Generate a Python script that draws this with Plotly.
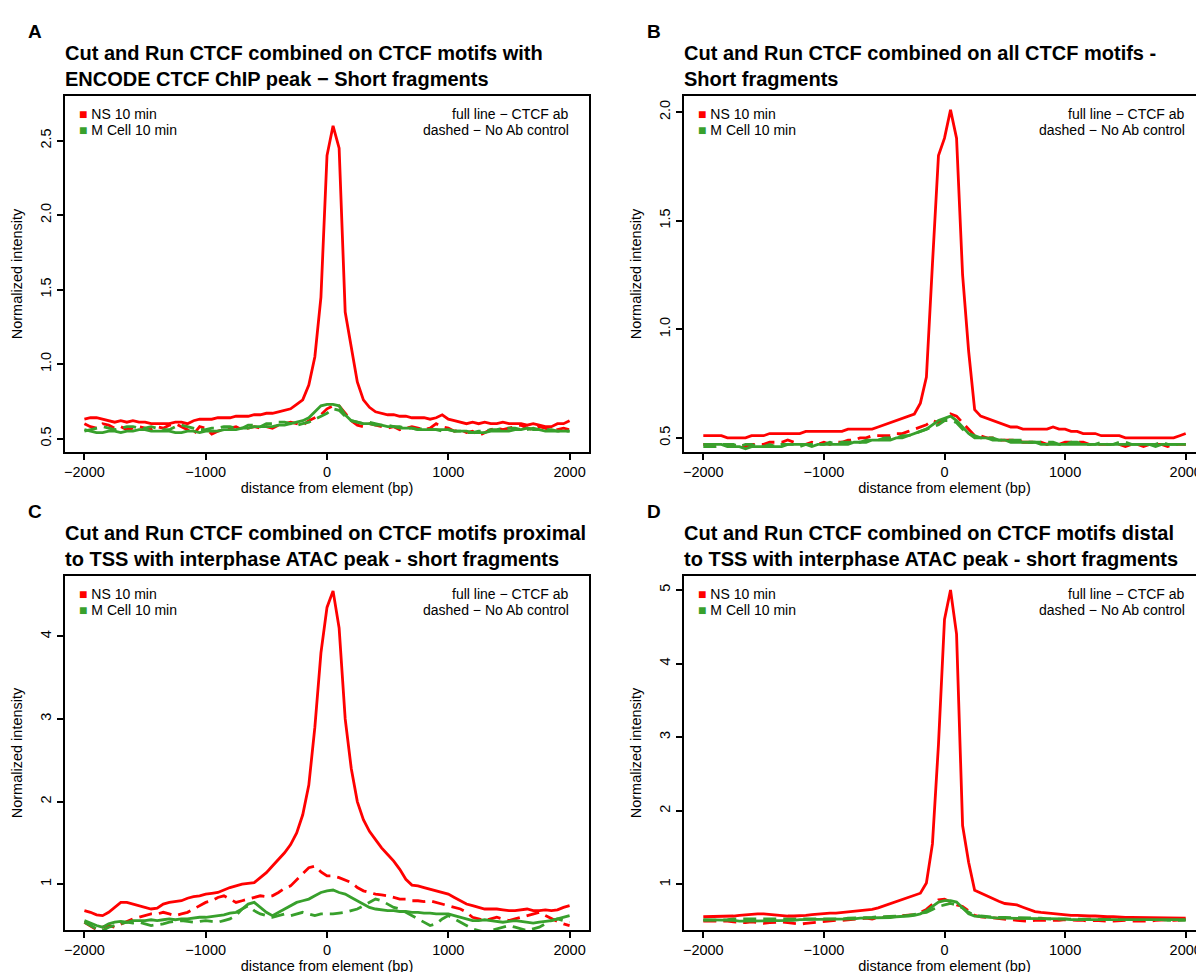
import plotly.graph_objects as go

# ---------------- data ----------------
distance_bp = [-2000 + 50 * i for i in range(81)]

x_tick_vals = [-2000, -1000, 0, 1000, 2000]
x_tick_text = ["\u22122000", "\u22121000", "0", "1000", "2000"]

# Panel A
a_ns_ctcf = [0.63,0.64,0.64,0.63,0.62,0.61,0.62,0.61,0.62,0.61,
             0.61,0.60,0.60,0.60,0.60,0.61,0.61,0.60,0.62,0.63,
             0.63,0.63,0.64,0.64,0.64,0.65,0.65,0.65,0.66,0.66,
             0.67,0.67,0.68,0.69,0.70,0.73,0.76,0.86,1.05,1.45,
             2.40,2.60,2.45,1.35,1.12,0.88,0.76,0.71,0.68,0.67,
             0.66,0.66,0.65,0.65,0.64,0.64,0.64,0.63,0.64,0.66,
             0.63,0.62,0.61,0.60,0.61,0.60,0.61,0.60,0.60,0.61,
             0.60,0.60,0.60,0.59,0.60,0.59,0.58,0.58,0.60,0.60,
             0.62]
a_ns_noab = [0.60,0.58,0.57,0.60,0.59,0.57,0.58,0.56,0.57,0.58,
             0.57,0.56,0.58,0.57,0.59,0.60,0.58,0.56,0.53,0.58,
             0.57,0.53,0.55,0.56,0.57,0.58,0.56,0.57,0.58,0.57,
             0.58,0.57,0.59,0.60,0.61,0.60,0.59,0.62,0.64,0.66,
             0.70,0.72,0.72,0.67,0.62,0.59,0.58,0.60,0.59,0.58,
             0.57,0.58,0.56,0.57,0.58,0.57,0.56,0.57,0.60,0.58,
             0.57,0.55,0.56,0.54,0.55,0.52,0.54,0.56,0.57,0.56,
             0.57,0.58,0.59,0.57,0.56,0.58,0.57,0.55,0.56,0.57,
             0.56]
a_m_ctcf = [0.56,0.55,0.54,0.54,0.55,0.55,0.54,0.55,0.55,0.56,
            0.56,0.55,0.55,0.55,0.55,0.54,0.54,0.55,0.55,0.54,
            0.55,0.55,0.55,0.56,0.56,0.56,0.57,0.57,0.58,0.58,
            0.58,0.58,0.59,0.59,0.60,0.61,0.62,0.64,0.68,0.72,
            0.73,0.73,0.72,0.66,0.62,0.61,0.60,0.60,0.59,0.59,
            0.58,0.58,0.57,0.57,0.57,0.56,0.56,0.56,0.56,0.56,
            0.56,0.55,0.55,0.55,0.54,0.54,0.54,0.55,0.55,0.55,
            0.55,0.56,0.56,0.57,0.56,0.56,0.55,0.55,0.55,0.55,
            0.55]
a_m_noab = [0.55,0.56,0.57,0.58,0.57,0.56,0.57,0.58,0.58,0.57,
            0.57,0.58,0.57,0.56,0.56,0.58,0.59,0.58,0.57,0.56,
            0.56,0.57,0.57,0.58,0.58,0.57,0.57,0.59,0.59,0.58,
            0.60,0.60,0.61,0.61,0.60,0.59,0.60,0.61,0.63,0.65,
            0.67,0.70,0.69,0.65,0.62,0.61,0.60,0.61,0.60,0.59,
            0.59,0.58,0.58,0.57,0.57,0.56,0.57,0.56,0.56,0.55,
            0.56,0.55,0.55,0.54,0.54,0.55,0.55,0.56,0.56,0.57,
            0.57,0.57,0.56,0.56,0.57,0.56,0.56,0.56,0.55,0.55,
            0.55]

# Panel B
b_ns_ctcf = [0.51,0.51,0.51,0.51,0.50,0.50,0.50,0.50,0.51,0.51,
             0.51,0.52,0.52,0.52,0.52,0.52,0.52,0.53,0.53,0.53,
             0.53,0.53,0.53,0.53,0.54,0.54,0.54,0.54,0.54,0.55,
             0.56,0.57,0.58,0.59,0.60,0.61,0.66,0.78,1.30,1.80,
             1.88,2.01,1.88,1.25,0.90,0.63,0.60,0.59,0.58,0.57,
             0.56,0.55,0.55,0.54,0.54,0.54,0.54,0.54,0.55,0.54,
             0.54,0.53,0.53,0.52,0.52,0.52,0.51,0.51,0.51,0.51,
             0.50,0.50,0.50,0.50,0.50,0.50,0.50,0.50,0.50,0.51,
             0.52]
b_ns_noab = [0.47,0.47,0.47,0.47,0.47,0.46,0.47,0.46,0.47,0.47,
             0.47,0.48,0.48,0.48,0.49,0.48,0.47,0.47,0.48,0.47,
             0.48,0.47,0.48,0.48,0.49,0.49,0.50,0.50,0.51,0.51,
             0.51,0.51,0.52,0.52,0.53,0.54,0.55,0.56,0.58,0.57,
             0.58,0.61,0.60,0.57,0.54,0.51,0.51,0.50,0.50,0.49,
             0.49,0.49,0.49,0.48,0.48,0.48,0.48,0.47,0.48,0.47,
             0.48,0.48,0.48,0.48,0.47,0.47,0.47,0.47,0.47,0.47,
             0.46,0.47,0.47,0.46,0.47,0.47,0.47,0.46,0.47,0.47,
             0.47]
b_m_ctcf = [0.47,0.47,0.47,0.47,0.46,0.46,0.46,0.45,0.46,0.46,
            0.46,0.46,0.46,0.46,0.47,0.47,0.47,0.47,0.46,0.47,
            0.47,0.47,0.47,0.47,0.47,0.48,0.48,0.48,0.49,0.49,
            0.49,0.49,0.50,0.50,0.51,0.52,0.53,0.54,0.56,0.58,
            0.59,0.60,0.58,0.55,0.52,0.50,0.50,0.50,0.49,0.49,
            0.49,0.48,0.48,0.48,0.48,0.48,0.47,0.47,0.47,0.47,
            0.47,0.47,0.47,0.47,0.47,0.47,0.47,0.47,0.47,0.47,
            0.47,0.47,0.47,0.47,0.47,0.46,0.47,0.47,0.47,0.47,
            0.47]
b_m_noab = [0.46,0.46,0.46,0.47,0.47,0.47,0.46,0.47,0.47,0.46,
            0.46,0.47,0.46,0.47,0.47,0.47,0.46,0.47,0.47,0.47,
            0.47,0.48,0.47,0.48,0.48,0.48,0.48,0.49,0.49,0.49,
            0.50,0.50,0.50,0.51,0.51,0.52,0.53,0.54,0.55,0.56,
            0.58,0.58,0.57,0.54,0.52,0.51,0.50,0.50,0.50,0.49,
            0.49,0.49,0.49,0.49,0.48,0.48,0.48,0.48,0.48,0.47,
            0.47,0.48,0.48,0.47,0.47,0.47,0.48,0.47,0.47,0.48,
            0.48,0.47,0.47,0.47,0.47,0.47,0.48,0.47,0.47,0.47,
            0.47]

# Panel C
c_ns_ctcf = [0.68,0.66,0.63,0.62,0.66,0.72,0.78,0.78,0.76,0.74,
             0.72,0.70,0.71,0.76,0.78,0.79,0.80,0.83,0.85,0.86,
             0.88,0.89,0.90,0.93,0.96,0.98,1.00,1.01,1.02,1.08,
             1.14,1.22,1.30,1.38,1.48,1.62,1.84,2.20,2.90,3.80,
             4.35,4.55,4.10,3.00,2.40,2.00,1.78,1.64,1.54,1.44,
             1.36,1.28,1.18,1.06,0.99,0.98,0.96,0.94,0.92,0.90,
             0.88,0.84,0.80,0.76,0.74,0.72,0.70,0.70,0.70,0.69,
             0.68,0.68,0.69,0.70,0.68,0.68,0.69,0.68,0.69,0.72,
             0.74]
c_ns_noab = [0.54,0.50,0.45,0.48,0.50,0.48,0.52,0.55,0.58,0.60,
             0.62,0.64,0.64,0.66,0.64,0.62,0.64,0.66,0.70,0.74,
             0.78,0.80,0.84,0.86,0.82,0.78,0.80,0.82,0.84,0.86,
             0.85,0.86,0.90,0.95,0.98,1.05,1.12,1.20,1.22,1.15,
             1.10,1.10,1.08,1.05,1.02,0.96,0.92,0.90,0.88,0.87,
             0.86,0.84,0.82,0.82,0.80,0.80,0.79,0.80,0.78,0.76,
             0.74,0.72,0.70,0.66,0.60,0.58,0.56,0.58,0.60,0.58,
             0.56,0.58,0.60,0.62,0.64,0.66,0.62,0.58,0.55,0.52,
             0.50]
c_m_ctcf = [0.56,0.53,0.50,0.48,0.52,0.54,0.55,0.54,0.56,0.56,
            0.56,0.57,0.56,0.57,0.58,0.57,0.58,0.58,0.59,0.60,
            0.60,0.61,0.62,0.63,0.65,0.66,0.70,0.76,0.78,0.72,
            0.66,0.62,0.66,0.70,0.74,0.78,0.80,0.82,0.86,0.90,
            0.92,0.93,0.90,0.88,0.84,0.80,0.76,0.72,0.70,0.69,
            0.68,0.68,0.67,0.67,0.66,0.66,0.65,0.65,0.64,0.64,
            0.64,0.62,0.60,0.58,0.56,0.56,0.57,0.56,0.55,0.54,
            0.55,0.56,0.55,0.54,0.53,0.54,0.55,0.56,0.58,0.60,
            0.62]
c_m_noab = [0.54,0.50,0.46,0.44,0.48,0.50,0.52,0.54,0.53,0.54,
            0.52,0.50,0.51,0.52,0.54,0.55,0.56,0.55,0.54,0.55,
            0.56,0.55,0.54,0.56,0.58,0.62,0.70,0.74,0.68,0.64,
            0.62,0.60,0.62,0.64,0.62,0.64,0.66,0.64,0.62,0.64,
            0.64,0.64,0.65,0.66,0.68,0.70,0.74,0.78,0.82,0.80,
            0.76,0.72,0.70,0.66,0.62,0.58,0.54,0.50,0.52,0.58,
            0.62,0.58,0.54,0.50,0.46,0.44,0.42,0.44,0.46,0.48,
            0.50,0.48,0.46,0.44,0.46,0.48,0.52,0.56,0.58,0.56,
            0.54]

# Panel D
d_ns_ctcf = [0.56,0.56,0.56,0.56,0.57,0.57,0.58,0.59,0.60,0.60,
             0.60,0.59,0.58,0.57,0.57,0.57,0.57,0.58,0.59,0.60,
             0.60,0.61,0.61,0.62,0.62,0.63,0.64,0.65,0.66,0.68,
             0.71,0.73,0.76,0.79,0.82,0.85,0.88,1.02,1.55,2.90,
             4.60,5.00,4.40,1.80,1.30,0.92,0.88,0.85,0.81,0.77,
             0.74,0.73,0.72,0.69,0.66,0.63,0.62,0.61,0.60,0.59,
             0.58,0.58,0.58,0.57,0.57,0.57,0.56,0.56,0.56,0.55,
             0.55,0.55,0.55,0.55,0.55,0.54,0.54,0.54,0.54,0.54,
             0.54]
d_ns_noab = [0.50,0.50,0.51,0.50,0.50,0.49,0.48,0.48,0.49,0.48,
             0.47,0.48,0.49,0.49,0.48,0.47,0.46,0.47,0.48,0.49,
             0.50,0.50,0.51,0.51,0.52,0.52,0.53,0.54,0.53,0.55,
             0.55,0.56,0.56,0.57,0.58,0.59,0.62,0.66,0.73,0.79,
             0.80,0.76,0.72,0.70,0.64,0.58,0.56,0.55,0.54,0.54,
             0.53,0.52,0.51,0.50,0.50,0.51,0.51,0.50,0.51,0.51,
             0.52,0.51,0.51,0.51,0.50,0.51,0.50,0.50,0.50,0.51,
             0.51,0.50,0.50,0.49,0.50,0.51,0.52,0.52,0.51,0.51,
             0.52]
d_m_ctcf = [0.52,0.52,0.51,0.51,0.51,0.51,0.50,0.50,0.50,0.50,
            0.50,0.50,0.51,0.51,0.51,0.51,0.52,0.52,0.52,0.52,
            0.53,0.53,0.53,0.53,0.53,0.53,0.54,0.54,0.54,0.55,
            0.55,0.55,0.56,0.56,0.57,0.58,0.60,0.64,0.70,0.76,
            0.78,0.78,0.76,0.68,0.60,0.57,0.56,0.55,0.55,0.54,
            0.54,0.54,0.54,0.53,0.53,0.53,0.53,0.53,0.53,0.53,
            0.53,0.52,0.52,0.52,0.52,0.52,0.52,0.52,0.52,0.52,
            0.52,0.52,0.52,0.52,0.52,0.52,0.52,0.52,0.52,0.52,
            0.52]
d_m_noab = [0.51,0.51,0.51,0.52,0.52,0.53,0.53,0.52,0.52,0.52,
            0.52,0.52,0.52,0.52,0.52,0.53,0.53,0.53,0.53,0.53,
            0.53,0.53,0.53,0.53,0.54,0.54,0.54,0.54,0.55,0.56,
            0.56,0.56,0.57,0.57,0.58,0.59,0.60,0.62,0.66,0.70,
            0.72,0.74,0.72,0.68,0.62,0.58,0.57,0.56,0.56,0.55,
            0.55,0.55,0.55,0.54,0.54,0.54,0.54,0.53,0.53,0.53,
            0.53,0.53,0.53,0.53,0.53,0.53,0.53,0.53,0.53,0.52,
            0.52,0.52,0.52,0.52,0.52,0.52,0.52,0.51,0.51,0.51,
            0.51]

panel_letters = ["A", "B", "C", "D"]
panel_titles = [
    "Cut and Run CTCF combined on CTCF motifs with<br>ENCODE CTCF ChIP peak \u2212 Short fragments",
    "Cut and Run CTCF combined on all CTCF motifs -<br>Short fragments",
    "Cut and Run CTCF combined on CTCF motifs proximal<br>to TSS with interphase ATAC peak - short fragments",
    "Cut and Run CTCF combined on CTCF motifs distal<br>to TSS with interphase ATAC peak - short fragments",
]
series_names = ["NS 10 min", "M Cell 10 min"]
line_key = ["full line \u2212 CTCF ab", "dashed \u2212 No Ab control"]
y_tick_vals = [[0.5, 1.0, 1.5, 2.0, 2.5], [0.5, 1.0, 1.5, 2.0], [1, 2, 3, 4], [1, 2, 3, 4, 5]]
y_tick_text = [["0.5", "1.0", "1.5", "2.0", "2.5"], ["0.5", "1.0", "1.5", "2.0"],
               ["1", "2", "3", "4"], ["1", "2", "3", "4", "5"]]
y_ranges = [[0.41, 2.80], [0.435, 2.074], [0.446, 4.73], [0.38, 5.19]]
x_range = [-2160, 2160]

panel_series = [
    (a_ns_ctcf, a_ns_noab, a_m_ctcf, a_m_noab),
    (b_ns_ctcf, b_ns_noab, b_m_ctcf, b_m_noab),
    (c_ns_ctcf, c_ns_noab, c_m_ctcf, c_m_noab),
    (d_ns_ctcf, d_ns_noab, d_m_ctcf, d_m_noab),
]

# ---------------- layout geometry (pixels) ----------------
W, H = 1204, 972
boxes = [  # left, right, top, bottom
    (57, 581, 88, 444),
    (676, 1197, 88, 444),
    (57, 581, 568, 922),
    (676, 1197, 568, 922),
]
RED = "#FF0000"
GREEN = "#38A02C"
FONT = "Liberation Sans, Arial, Helvetica, sans-serif"

def px(x):
    return x / W

def py(y):
    return 1 - y / H

fig = go.Figure()
annotations = []
layout_axes = {}

for i in range(4):
    l, r, t, b = boxes[i]
    xa = "x" if i == 0 else f"x{i+1}"
    ya = "y" if i == 0 else f"y{i+1}"
    ns_ctcf, ns_noab, m_ctcf, m_noab = panel_series[i]
    for vals, color, dash, name in [
        (ns_noab, RED, "13px,7px", "NS 10 min No Ab"),
        (m_noab, GREEN, "13px,7px", "M Cell 10 min No Ab"),
        (ns_ctcf, RED, "solid", "NS 10 min CTCF ab"),
        (m_ctcf, GREEN, "solid", "M Cell 10 min CTCF ab"),
    ]:
        fig.add_trace(go.Scatter(x=distance_bp, y=vals, mode="lines", name=name,
                                 line=dict(color=color, width=2.8, dash=dash),
                                 xaxis=xa, yaxis=ya, showlegend=False))
    axis_common = dict(showline=True, linecolor="black", linewidth=2, mirror=True,
                       ticks="outside", ticklen=6, tickwidth=1.5, tickcolor="black",
                       showgrid=False, zeroline=False,
                       tickfont=dict(family=FONT, size=14.5, color="black"))
    layout_axes["xaxis" if i == 0 else f"xaxis{i+1}"] = dict(
        axis_common, domain=[px(l), px(r)], range=x_range, anchor=ya,
        tickmode="array", tickvals=x_tick_vals, ticktext=x_tick_text,
        title=dict(text="distance from element (bp)", standoff=0,
                   font=dict(family=FONT, size=14.5, color="black")))
    layout_axes["yaxis" if i == 0 else f"yaxis{i+1}"] = dict(
        axis_common, domain=[py(b), py(t)], range=y_ranges[i], anchor=xa,
        tickmode="array", tickvals=y_tick_vals[i], ticktext=y_tick_text[i], tickangle=-90,
        title=dict(text="Normalized intensity", standoff=12,
                   font=dict(family=FONT, size=14.5, color="black")))
    # panel letter
    annotations.append(dict(text=f"<b>{panel_letters[i]}</b>", x=px(l - 39),
                            y=py(t - 65), xref="paper", yref="paper", showarrow=False,
                            xanchor="left", yanchor="middle",
                            font=dict(family=FONT, size=19, color="black")))
    # title
    annotations.append(dict(text=f"<b>{panel_titles[i]}</b>", x=px(l - 2), y=py(t - 4),
                            xref="paper", yref="paper", showarrow=False, align="left",
                            xanchor="left", yanchor="bottom",
                            font=dict(family=FONT, size=20, color="black")))
    # legend
    for k, (nm, col) in enumerate(zip(series_names, [RED, GREEN])):
        yy = t + 18 + 16 * k
        annotations.append(dict(text=f"<span style='color:{col}'>\u25a0</span> {nm}",
                                x=px(l + 12), y=py(yy), xref="paper", yref="paper",
                                showarrow=False, xanchor="left", yanchor="middle",
                                font=dict(family=FONT, size=14, color="black")))
        annotations.append(dict(text=line_key[k], x=px(r - 18), y=py(yy),
                                xref="paper", yref="paper", showarrow=False,
                                xanchor="right", yanchor="middle",
                                font=dict(family=FONT, size=14, color="black")))

fig.update_layout(width=W, height=H, margin=dict(l=0, r=0, t=0, b=0),
                  paper_bgcolor="white", plot_bgcolor="white",
                  annotations=annotations, showlegend=False, **layout_axes)

fig.write_html("out.html")
